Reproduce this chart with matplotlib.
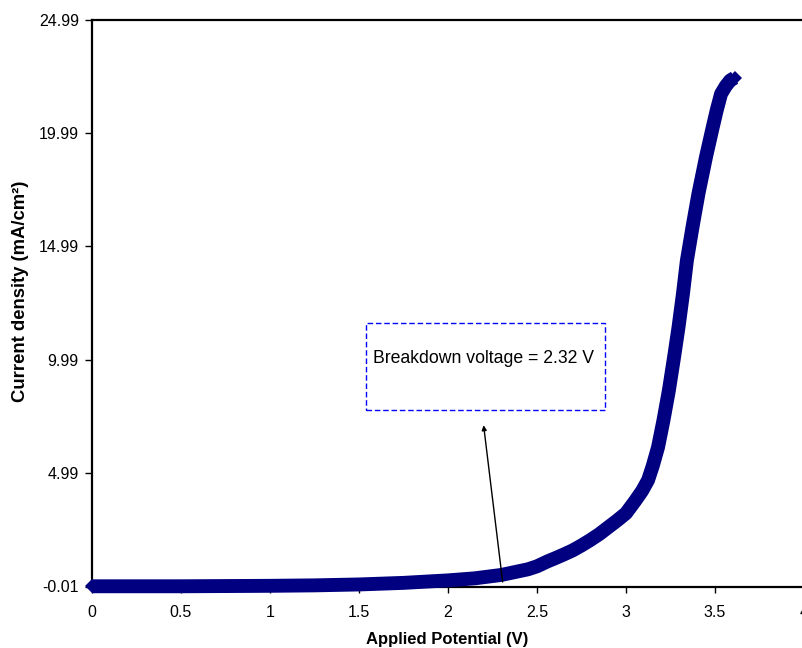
import matplotlib
matplotlib.use("Agg")
import matplotlib.pyplot as plt
from matplotlib.patches import Rectangle

plt.rcParams['font.family'] = ['Liberation Sans', 'DejaVu Sans']

# Data
potential = [0.0, 0.25, 0.5, 0.75, 1.0, 1.25, 1.5, 1.75, 2.0, 2.15, 2.3, 2.45, 2.5, 2.56,
             2.6, 2.65, 2.7, 2.75, 2.80, 2.85, 2.90, 2.95, 3.00, 3.05, 3.09, 3.124, 3.15,
             3.18, 3.21, 3.241, 3.27, 3.295, 3.32, 3.342, 3.375, 3.407, 3.45, 3.487, 3.51,
             3.534, 3.56, 3.585, 3.61]
current = [0.0, 0.0, 0.0, 0.01, 0.02, 0.04, 0.08, 0.15, 0.26, 0.35, 0.5, 0.75, 0.88, 1.1,
           1.23, 1.4, 1.58, 1.8, 2.04, 2.3, 2.6, 2.9, 3.22, 3.75, 4.2, 4.68, 5.3,
           6.13, 7.3, 8.64, 10.1, 11.42, 12.9, 14.36, 15.9, 17.31, 18.95, 20.23, 21.0,
           21.71, 22.05, 22.3, 22.42]

x_ticks = [0, 0.5, 1, 1.5, 2, 2.5, 3, 3.5, 4]
x_tick_labels = ['0', '0.5', '1', '1.5', '2', '2.5', '3', '3.5', '4']
y_ticks = [-0.01, 4.99, 9.99, 14.99, 19.99, 24.99]
y_tick_labels = ['-0.01', '4.99', '9.99', '14.99', '19.99', '24.99']

annotation_text = 'Breakdown voltage = 2.32 V'
arrow_from = (2.307, 0.19)
arrow_to = (2.20, 7.10)
box_x0, box_x1 = 1.542, 2.881
box_y0, box_y1 = 7.76, 11.63

W, H = 802, 648
fig = plt.figure(figsize=(W / 100, H / 100), dpi=100)
ax = fig.add_axes([92 / W, (H - 586.5) / H, 712 / W, 567 / H])

ax.plot(potential, current, color='#000080', lw=10, solid_capstyle='butt',
        solid_joinstyle='round', marker='D', markersize=7.1, markevery=[0, len(potential) - 1],
        markeredgewidth=0, clip_on=False, zorder=3)

ax.set_xlim(0, 4)
ax.set_ylim(-0.01, 24.99)
ax.set_xticks(x_ticks)
ax.set_xticklabels(x_tick_labels)
ax.set_yticks(y_ticks)
ax.set_yticklabels(y_tick_labels)

for s in ['left', 'top', 'bottom', 'right']:
    ax.spines[s].set_linewidth(1.6)
    ax.spines[s].set_color('black')

ax.tick_params(axis='y', direction='out', length=5, width=1, pad=4.5, labelsize=11.5, colors='black')
ax.tick_params(axis='x', direction='out', length=4, width=1, pad=9, labelsize=11.5, colors='black')

ax.set_xlabel('Applied Potential (V)', fontsize=12, fontweight='bold')
ax.set_ylabel('Current density (mA/cm²)', fontsize=13.3, fontweight='bold')
ax.xaxis.set_label_coords(0.499, -0.0926)
ax.yaxis.set_label_coords(-0.101, 0.521)
ax.xaxis.label.set_va('center')
ax.yaxis.label.set_va('center')

rect = Rectangle((box_x0, box_y0), box_x1 - box_x0, box_y1 - box_y0, fill=False,
                 edgecolor='#0000FF', lw=1, linestyle=(0, (4, 2)), zorder=4)
ax.add_patch(rect)
ax.text((box_x0 + box_x1) / 2 - 0.01, 10.05, annotation_text, ha='center', va='center',
        fontsize=12.7, zorder=5)

ax.annotate('', xy=arrow_to, xytext=arrow_from,
            arrowprops=dict(arrowstyle='-|>', color='black', lw=1, mutation_scale=7,
                            shrinkA=0, shrinkB=0), zorder=6)

fig.savefig('out.png', dpi=100)
